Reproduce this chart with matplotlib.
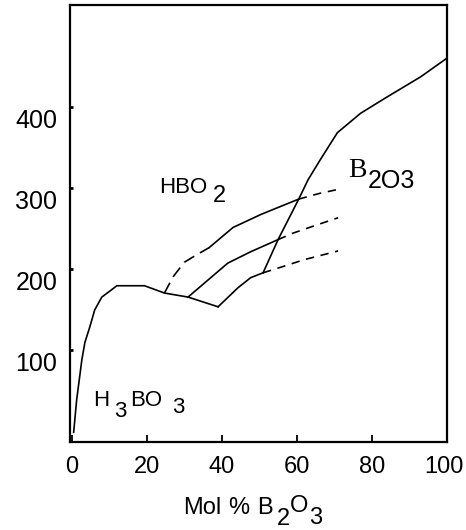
import matplotlib
matplotlib.use("Agg")
import matplotlib.pyplot as plt
import matplotlib.transforms as mtransforms

plt.rcParams['font.family'] = ['Liberation Sans', 'DejaVu Sans']

# liquidus from H3BO3 through the HBO2 region down to the minimum
main_x = [0.5, 1.3, 2.7, 3.5, 4.8, 6.1, 8, 10.6, 12, 19.4, 24.7, 31, 39]
main_y = [-2, 38, 88, 109, 128, 149, 165, 174, 179, 179, 170, 165, 153]

# lower HBO2 branch (solid part, then metastable dashed part)
low_x = [39, 44.3, 47.7, 51]
low_y = [153, 176.5, 189, 195]
low_dash_x = [51, 56.5, 61.8, 71]
low_dash_y = [195, 203, 211, 222]

# middle branch
mid_x = [31, 36.3, 41.6, 47.7, 55]
mid_y = [165, 186, 207, 221, 236]
mid_dash_x = [55, 59, 64, 71]
mid_dash_y = [236, 244, 252, 263]

# upper branch: dashed start, solid middle, dashed end
up_dash1_x = [24.7, 27, 30, 33.2, 36.6]
up_dash1_y = [170, 190, 208, 217, 226]
up_x = [36.6, 43, 50.4, 55.7, 60.5]
up_y = [226, 251, 267, 277, 286]
up_dash2_x = [60.5, 66, 71]
up_dash2_y = [286, 293, 298]

# B2O3 liquidus
b2o3_x = [51, 55, 60.5, 63, 66.3, 70.8, 77, 84, 93, 100]
b2o3_y = [195, 236, 286, 310, 335, 368, 392, 412, 437, 460]

x_ticks = [0, 20, 40, 60, 80, 100]
y_ticks = [100, 200, 300, 400]

fig = plt.figure(figsize=(4.66, 5.30), dpi=100)
ax = fig.add_axes([0.150, 0.166, 0.809, 0.825])

lw = 1.2
ax.plot(main_x, main_y, color='black', lw=lw)
ax.plot(low_x, low_y, color='black', lw=lw)
ax.plot(low_dash_x, low_dash_y, color='black', lw=lw, dashes=(5, 4))
ax.plot(mid_x, mid_y, color='black', lw=lw)
ax.plot(mid_dash_x, mid_dash_y, color='black', lw=lw, dashes=(5, 4))
ax.plot(up_dash1_x, up_dash1_y, color='black', lw=lw, dashes=(7, 4))
ax.plot(up_x, up_y, color='black', lw=lw)
ax.plot(up_dash2_x, up_dash2_y, color='black', lw=lw, dashes=(5, 4))
ax.plot(b2o3_x, b2o3_y, color='black', lw=lw)

ax.set_xlim(-0.5, 100)
ax.set_ylim(-14, 526)
ax.set_xticks(x_ticks)
ax.set_yticks(y_ticks)
ax.tick_params(axis='x', direction='in', length=5, width=1.3, pad=10, labelsize=17)
ax.tick_params(axis='y', direction='in', length=2, width=2, pad=9, labelsize=18)
for s in ax.spines.values():
    s.set_linewidth(1.6)

# y tick labels sit a bit below their ticks in the original
off = mtransforms.ScaledTranslation(0, -12 / 100, fig.dpi_scale_trans)
for lab in ax.get_yticklabels():
    lab.set_transform(lab.get_transform() + off)
# keep the last x label inside the picture
last = ax.get_xticklabels()[-1]
last.set_transform(last.get_transform() + mtransforms.ScaledTranslation(-3 / 100, 0, fig.dpi_scale_trans))


def chem(first, xy, xycoords, parts, fs, family='Liberation Sans'):
    # parts: (text, dx px, dy px, size) relative to the previous piece
    t = ax.annotate(first, xy=xy, xycoords=xycoords, fontsize=fs,
                    va='baseline', ha='left', family=family,
                    annotation_clip=False)
    prev = t
    for s, dx, dy, size in parts:
        prev = ax.annotate(s, xy=(1, 0), xycoords=prev,
                           xytext=(dx * 0.72, dy * 0.72), textcoords='offset points',
                           fontsize=size, va='bottom', ha='left', annotation_clip=False)
    return t


chem('HBO', (23.3, 294), 'data', [('2', 5, -9, 17)], 16)
chem('H', (5.8, 30), 'data', [('3', 4, -11, 16), ('BO', 4, 11, 16), ('3', 10, -7, 16)], 16)
chem('B', (73.7, 313), 'data', [('2O3', 1, -10, 18)], 20, family='Liberation Serif')
chem('Mol', (183, 16), 'figure pixels',
     [('%', 7, 0, 17), ('B', 8, 0, 17), ('2', 4, -11, 17), ('O', 0, 13, 17), ('3', 1, -12, 17)], 17)

fig.savefig('out.png', dpi=100)
